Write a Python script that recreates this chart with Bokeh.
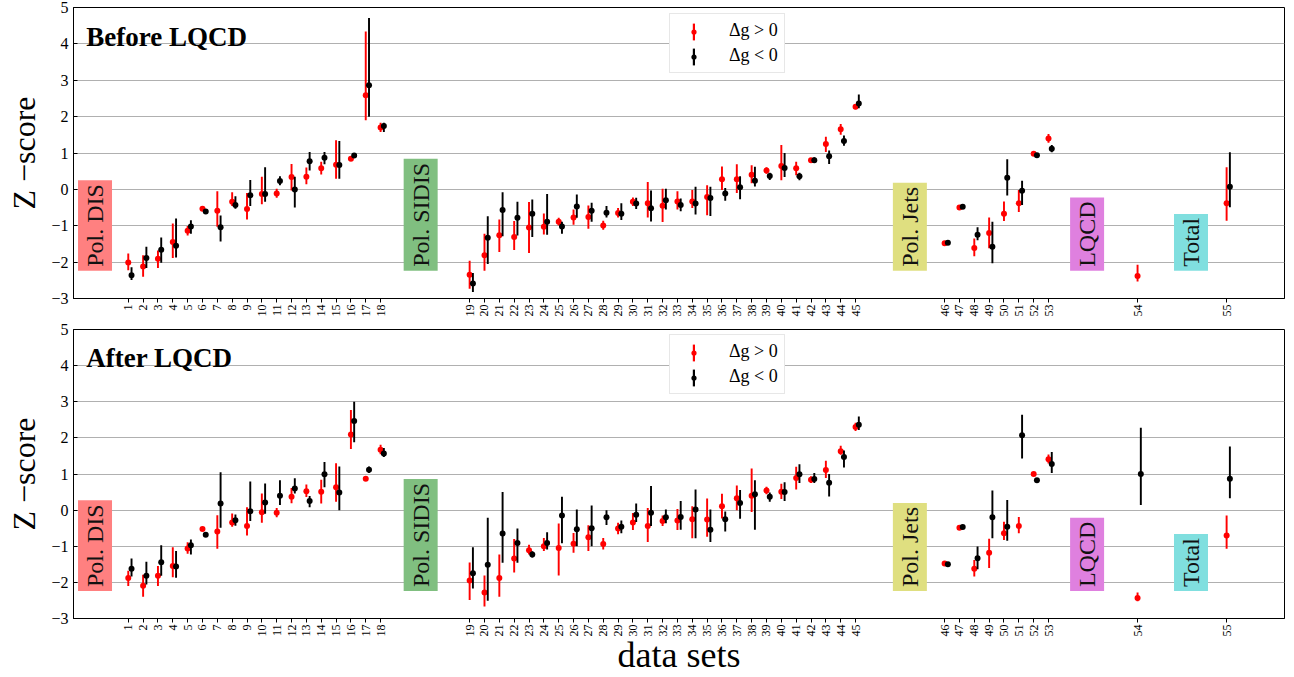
import math
from bokeh.plotting import figure
from bokeh.models import ColumnDataSource, FixedTicker, Label, Legend, LegendItem
from bokeh.layouts import column
from bokeh.embed import file_html
from bokeh.resources import INLINE

nan = float("nan")

# ---------------- data ----------------
datasets = list(range(1, 56))
group_names = ["Pol. DIS", "Pol. SIDIS", "Pol. Jets", "LQCD", "Total"]
group_sizes = [18, 27, 8, 1, 1]
group_colors = ["#ff8080", "#80bf80", "#dfdf80", "#df80df", "#80dfdf"]
group_label_x = [-1.24, 20.7, 53.66, 65.6, 72.6]
y_ticks = [-3, -2, -1, 0, 1, 2, 3, 4, 5]
series_labels = ["Δg > 0", "Δg < 0"]
panel_titles = ["Before LQCD", "After LQCD"]

# Before LQCD, Δg > 0 (red)
before_pos_val = [-2.01, -2.12, -1.91, -1.45, -1.14, -0.53, -0.59, -0.34, -0.54, -0.13,
                  -0.11, 0.34, 0.35, 0.58, 0.68, 0.84, 2.59, 1.70,
                  -2.35, -1.81, -1.26, -1.31, -1.05, -1.03, -0.89, -0.77, -0.76, -0.99,
                  -0.65, -0.34, -0.38, -0.45, -0.33, -0.33, -0.21, 0.28, 0.28, 0.40,
                  0.52, 0.64, 0.58, 0.80, 1.25, 1.65, 2.27,
                  -1.48, -0.50, -1.61, -1.20, -0.67, -0.38, 0.98, 1.40,
                  -2.38, -0.38]
before_pos_lo = [-2.22, -2.40, -2.16, -1.89, -1.27, -0.56, -1.03, -0.46, -0.83, -0.41,
                 -0.23, -0.03, 0.14, 0.41, 0.29, 0.80, 1.90, 1.58,
                 -2.73, -2.24, -1.72, -1.67, -1.75, -1.24, -0.99, -0.97, -1.08, -1.11,
                 -0.77, -0.46, -0.77, -0.90, -0.55, -0.51, -0.71, -0.02, -0.10, 0.17,
                 0.43, 0.25, 0.39, 0.77, 1.03, 1.50, 2.20,
                 -1.51, -0.53, -1.84, -1.62, -0.87, -0.62, 0.95, 1.28,
                 -2.53, -0.86]
before_pos_hi = [-1.76, -1.81, -1.68, -0.94, -1.01, -0.50, -0.05, -0.08, -0.10, 0.35,
                 0.02, 0.70, 0.60, 0.76, 1.35, 0.88, 4.34, 1.83,
                 -1.96, -1.22, -0.83, -0.87, -0.35, -0.66, -0.78, -0.55, -0.44, -0.86,
                 -0.51, -0.22, 0.20, 0.02, -0.05, -0.02, 0.11, 0.63, 0.69, 0.66,
                 0.61, 1.22, 0.76, 0.83, 1.45, 1.80, 2.34,
                 -1.45, -0.47, -1.35, -0.77, -0.33, -0.02, 1.01, 1.52,
                 -2.07, 0.61]

# Before LQCD, Δg < 0 (black)
before_neg_val = [-2.36, -1.89, -1.66, -1.55, -1.02, -0.61, -1.04, -0.43, -0.16, -0.13,
                  0.23, 0.00, 0.77, 0.87, 0.67, 0.93, 2.86, 1.74,
                  -2.59, -1.33, -0.57, -0.78, -0.67, -0.89, -1.02, -0.47, -0.59, -0.64,
                  -0.67, -0.39, -0.52, -0.30, -0.43, -0.39, -0.24, -0.11, 0.06, 0.24,
                  0.37, 0.59, 0.36, 0.80, 0.91, 1.33, 2.36,
                  -1.47, -0.48, -1.25, -1.58, 0.32, -0.04, 0.94, 1.12,
                  nan, 0.07]
before_neg_lo = [-2.49, -2.16, -2.02, -1.87, -1.22, -0.64, -1.43, -0.53, -0.46, -0.34,
                 0.11, -0.50, 0.52, 0.69, 0.29, 0.89, 2.00, 1.58,
                 -2.82, -2.05, -1.29, -1.27, -1.31, -1.25, -1.22, -0.78, -0.89, -0.77,
                 -0.84, -0.54, -0.88, -0.55, -0.60, -0.69, -0.73, -0.31, -0.27, 0.08,
                 0.26, 0.34, 0.25, 0.76, 0.70, 1.20, 2.23,
                 -1.50, -0.51, -1.40, -2.03, -0.17, -0.43, 0.91, 1.02,
                 nan, -0.49]
before_neg_hi = [-2.14, -1.58, -1.32, -0.80, -0.85, -0.58, -0.72, -0.19, 0.26, 0.61,
                 0.36, 0.35, 1.03, 1.03, 1.33, 0.97, 4.71, 1.83,
                 -2.30, -0.74, -0.08, -0.34, -0.28, -0.13, -0.89, -0.14, -0.37, -0.46,
                 -0.38, -0.23, -0.03, 0.02, -0.25, 0.07, 0.07, 0.04, 0.36, 0.62,
                 0.46, 1.00, 0.46, 0.88, 1.07, 1.48, 2.61,
                 -1.44, -0.45, -1.04, -0.89, 0.83, 0.24, 0.97, 1.22,
                 nan, 1.02]

# After LQCD, Δg > 0 (red)
after_pos_val = [-1.88, -2.09, -1.82, -1.55, -1.06, -0.52, -0.59, -0.34, -0.44, -0.06,
                 -0.07, 0.37, 0.52, 0.51, 0.63, 2.09, 0.87, 1.67,
                 -1.95, -2.28, -1.88, -1.34, -1.11, -1.00, -1.05, -0.93, -0.75, -0.94,
                 -0.51, -0.34, -0.44, -0.30, -0.29, -0.25, -0.26, 0.11, 0.33, 0.40,
                 0.54, 0.51, 0.89, 0.84, 1.11, 1.63, 2.30,
                 -1.48, -0.49, -1.62, -1.18, -0.64, -0.44, 1.00, 1.41,
                 -2.43, -0.70]
after_pos_lo = [-2.10, -2.40, -2.10, -1.86, -1.21, -0.55, -1.07, -0.46, -0.70, -0.35,
                -0.20, 0.19, 0.36, 0.18, 0.23, 1.69, 0.81, 1.55,
                -2.49, -2.67, -2.40, -1.73, -1.23, -1.13, -1.81, -1.18, -1.13, -1.09,
                -0.67, -0.55, -0.88, -0.44, -0.55, -0.78, -0.74, -0.23, 0.00, -0.05,
                0.44, 0.31, 0.57, 0.75, 0.89, 1.53, 2.19,
                -1.51, -0.52, -1.84, -1.60, -0.83, -0.64, 0.97, 1.29,
                -2.52, -1.07]
after_pos_hi = [-1.68, -1.79, -1.55, -1.03, -0.89, -0.49, -0.14, -0.09, 0.08, 0.46,
                0.06, 0.61, 0.71, 0.84, 1.30, 2.77, 0.93, 1.81,
                -1.45, -1.81, -1.23, -0.80, -0.96, -0.77, -0.37, -0.63, -0.42, -0.77,
                -0.35, -0.08, 0.06, -0.15, 0.03, 0.11, 0.32, 0.45, 0.68, 1.15,
                0.65, 0.73, 1.20, 0.94, 1.37, 1.78, 2.42,
                -1.45, -0.46, -1.38, -0.79, -0.32, -0.19, 1.03, 1.54,
                -2.28, -0.15]

# After LQCD, Δg < 0 (black)
after_neg_val = [-1.62, -1.82, -1.44, -1.56, -0.97, -0.68, 0.18, -0.28, -0.03, 0.21,
                 0.40, 0.60, 0.25, 0.99, 0.49, 2.47, 1.12, 1.57,
                 -1.75, -1.51, -0.65, -0.91, -1.23, -0.91, -0.15, -0.53, -0.50, -0.20,
                 -0.46, -0.13, -0.07, -0.20, -0.19, 0.02, -0.54, -0.25, 0.20, 0.44,
                 0.37, 0.50, 0.99, 0.86, 0.76, 1.47, 2.36,
                 -1.50, -0.47, -1.33, -0.20, -0.46, 2.07, 0.83, 1.28,
                 1.00, 0.87]
after_neg_lo = [-1.84, -2.06, -1.82, -1.87, -1.23, -0.71, -0.49, -0.43, -0.30, -0.10,
                0.14, 0.46, 0.08, 0.63, 0.00, 1.88, 1.03, 1.47,
                -2.17, -2.51, -1.46, -1.46, -1.31, -1.09, -0.92, -1.00, -1.00, -0.41,
                -0.64, -0.33, -0.44, -0.36, -0.54, -0.78, -0.88, -0.59, -0.24, -0.54,
                0.23, 0.25, 0.75, 0.75, 0.38, 1.18, 2.22,
                -1.53, -0.50, -1.64, -0.78, -0.85, 1.43, 0.80, 1.03,
                0.14, 0.33]
after_neg_hi = [-1.34, -1.43, -0.97, -1.13, -0.81, -0.65, 1.05, -0.12, 0.79, 0.74,
                0.83, 0.88, 0.39, 1.33, 1.21, 3.00, 1.21, 1.72,
                -1.03, -0.21, 0.50, -0.51, -1.14, -0.61, 0.37, 0.02, 0.13, 0.00,
                -0.29, 0.18, 0.67, 0.02, 0.25, 0.57, 0.02, -0.04, 0.56, 0.83,
                0.49, 0.77, 1.27, 1.03, 1.00, 1.65, 2.59,
                -1.47, -0.44, -1.01, 0.54, 0.28, 2.64, 0.86, 1.61,
                2.28, 1.76]

# ---------------- layout helpers ----------------
group_index = []
for g, s in enumerate(group_sizes):
    group_index += [g] * s
x_pos = [n + 5 * g for n, g in zip(datasets, group_index)]
BLACK_SHIFT = 0.22
SERIF = "Liberation Serif"


def make_panel(title, pos, neg, height, border_top, border_bottom, xlabel):
    p = figure(width=1294, height=height, x_range=(-2.69, 78.9), y_range=(-3, 5),
               output_backend="svg", toolbar_location=None,
               min_border_left=73, min_border_right=10,
               min_border_top=border_top, min_border_bottom=border_bottom)
    p.background_fill_color = "white"
    p.border_fill_color = "white"
    p.outline_line_color = "black"
    p.outline_line_width = 1
    p.xgrid.visible = False
    p.ygrid.grid_line_color = "#b0b0b0"
    p.ygrid.grid_line_width = 1

    # axes
    p.xaxis.ticker = FixedTicker(ticks=x_pos)
    p.xaxis.major_label_overrides = {x: str(n) for x, n in zip(x_pos, datasets)}
    p.xaxis.major_label_orientation = math.pi / 2
    p.xaxis.major_label_text_font = SERIF
    p.xaxis.major_label_text_font_size = "12px"
    p.xaxis.major_label_text_color = "black"
    p.xaxis.major_label_standoff = 2
    p.xaxis.major_tick_out = 4
    p.xaxis.major_tick_in = 0
    p.xaxis.minor_tick_out = 0
    p.xaxis.minor_tick_in = 0
    p.xaxis.axis_line_color = "black"
    p.xaxis.major_tick_line_color = "black"
    if xlabel:
        p.xaxis.axis_label = xlabel
        p.xaxis.axis_label_text_font = SERIF
        p.xaxis.axis_label_text_font_size = "36px"
        p.xaxis.axis_label_text_font_style = "normal"
        p.xaxis.axis_label_text_color = "black"
        p.xaxis.axis_label_standoff = -5

    p.yaxis.ticker = FixedTicker(ticks=y_ticks)
    p.yaxis.major_label_overrides = {t: str(t).replace("-", "\u2212") for t in y_ticks}
    p.yaxis.major_label_text_font = SERIF
    p.yaxis.major_label_text_font_size = "16px"
    p.yaxis.major_label_text_color = "black"
    p.yaxis.major_label_standoff = 5
    p.yaxis.major_tick_in = 4
    p.yaxis.major_tick_out = 0
    p.yaxis.minor_tick_in = 0
    p.yaxis.minor_tick_out = 0
    p.yaxis.axis_line_color = "black"
    p.yaxis.major_tick_line_color = "black"
    p.yaxis.axis_label = "Z \u2212score"
    p.yaxis.axis_label_text_font = SERIF
    p.yaxis.axis_label_text_font_size = "32px"
    p.yaxis.axis_label_text_font_style = "normal"
    p.yaxis.axis_label_text_color = "black"
    p.yaxis.axis_label_standoff = 6

    # group label boxes
    for name, gx, col in zip(group_names, group_label_x, group_colors):
        p.add_layout(Label(x=gx, y=-2.24, text=name, angle=math.pi / 2,
                           text_align="left", text_baseline="middle",
                           text_font=SERIF, text_font_size="24px", text_color="#111111",
                           background_fill_color=col, background_fill_alpha=1.0,
                           padding=4, level="underlay"))

    # data
    dots = []
    bars = []
    for (val, lo, hi), colr, shift in zip([pos, neg], ["#ff0000", "#000000"], [0.0, BLACK_SHIFT]):
        src = ColumnDataSource(dict(x=[x + shift for x in x_pos], val=val, lo=lo, hi=hi))
        b = p.vbar(x="x", width=0.13, bottom="lo", top="hi", source=src,
                   fill_color=colr, line_color=None)
        d = p.scatter(x="x", y="val", size=6, source=src, fill_color=colr, line_color=None)
        bars.append(b)
        dots.append(d)

    # empty text renderer used as a glyph-less legend key holder
    keyless = p.text(x=[], y=[], text=[])

    # title
    p.add_layout(Label(x=-1.83, y=4.2, text=title, text_font=SERIF,
                       text_font_size="27px", text_font_style="bold",
                       text_align="left", text_baseline="alphabetic", text_color="black"))

    # legend box + labels
    fh = height - border_top - border_bottom
    ly = fh - 8 - 58
    leg = Legend(items=[LegendItem(label=series_labels[0], renderers=[keyless]),
                        LegendItem(label=series_labels[1], renderers=[keyless])],
                 location=(596, ly), orientation="vertical",
                 padding=6, spacing=4, margin=0,
                 glyph_width=38, glyph_height=21, label_height=21, label_standoff=15,
                 label_text_font=SERIF, label_text_font_size="18px",
                 label_text_color="black",
                 border_line_color="#d0d0d0", border_line_width=1,
                 background_fill_color="white", background_fill_alpha=1.0)
    p.add_layout(leg)
    # legend overlay: error-bar keys
    leg2 = Legend(items=[LegendItem(label=" ", renderers=[bars[0]]),
                         LegendItem(label=" ", renderers=[bars[1]])],
                  location=(613, ly), orientation="vertical",
                  padding=6, spacing=4, margin=0,
                  glyph_width=3, glyph_height=21, label_height=21, label_standoff=0,
                  label_text_font_size="1px",
                  border_line_alpha=0, background_fill_alpha=0)
    p.add_layout(leg2)
    # legend overlay: marker keys
    leg3 = Legend(items=[LegendItem(label=" ", renderers=[dots[0]]),
                         LegendItem(label=" ", renderers=[dots[1]])],
                  location=(608, ly), orientation="vertical",
                  padding=6, spacing=4, margin=0,
                  glyph_width=13, glyph_height=13, label_height=21, label_standoff=0,
                  label_text_font_size="1px",
                  border_line_alpha=0, background_fill_alpha=0)
    p.add_layout(leg3)
    return p


p1 = make_panel(panel_titles[0], (before_pos_val, before_pos_lo, before_pos_hi),
                (before_neg_val, before_neg_lo, before_neg_hi), 320, 7, 22, None)
p2 = make_panel(panel_titles[1], (after_pos_val, after_pos_lo, after_pos_hi),
                (after_neg_val, after_neg_lo, after_neg_hi), 357, 9, 58, "data sets")

layout = column(p1, p2, spacing=0)
open("out.html", "w").write(file_html(layout, INLINE))
